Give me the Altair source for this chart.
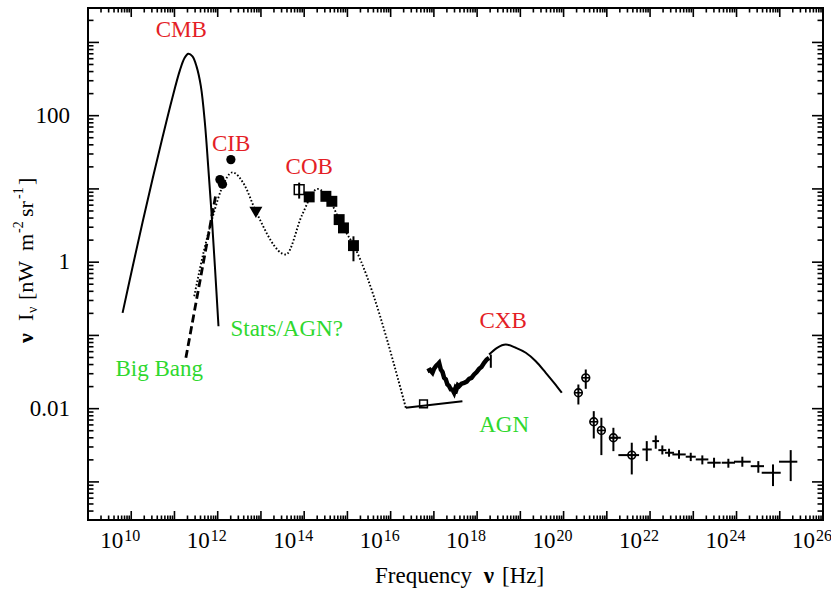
import altair as alt
import pandas as pd

FONT = "Liberation Serif"
RED = "#e41e26"
GREEN = "#2ed82e"
W, H = 735, 512

# ---------------- data (log10 of frequency [Hz] and of nu*I_nu [nW m^-2 sr^-1]) -------------
cmb_lognu = [9.80, 10.031, 10.262, 10.493, 10.724, 10.940, 11.125, 11.233, 11.318, 11.417, 11.510, 11.611,
             11.704, 11.780, 11.857, 11.935, 12.018]
cmb_logI = [-0.692, -0.065, 0.545, 1.136, 1.704, 2.218, 2.618, 2.787, 2.846, 2.809, 2.673, 2.400,
            1.900, 1.308, 0.672, -0.056, -0.874]

bigbang_lognu = [11.264, 11.965]
bigbang_logI = [-1.306, 0.95]

ebl_lognu = [11.457, 11.688, 11.919, 12.081, 12.342, 12.613, 12.883, 13.577, 13.954, 14.308, 14.578, 14.886, 15.156, 16.351]
ebl_logI = [-0.465, 0.172, 0.690, 0.990, 1.226, 1.059, 0.694, 0.104, 0.649, 1.0, 0.854, 0.490, 0.217, -1.988]

agn_lognu = [16.351, 17.66]
agn_logI = [-1.988, -1.898]
agn_pt_lognu = [16.76]
agn_pt_logI = [-1.933]

cxbdat_lognu = [16.851, 16.91, 16.967, 17.00, 17.045, 17.08, 17.121, 17.16, 17.20, 17.237, 17.275, 17.313,
                17.35, 17.392, 17.43, 17.468, 17.50, 17.522, 17.555, 17.584, 17.64, 17.699, 17.76, 17.815,
                17.87, 17.931, 17.99, 18.046, 18.10, 18.162, 18.22, 18.277]
cxbdat_logI = [-1.488, -1.47, -1.510, -1.46, -1.420, -1.40, -1.374, -1.465, -1.50, -1.579, -1.60, -1.670,
               -1.69, -1.738, -1.74, -1.783, -1.72, -1.738, -1.68, -1.693, -1.66, -1.647, -1.63, -1.593,
               -1.58, -1.533, -1.50, -1.456, -1.43, -1.374, -1.33, -1.306]
cxbdat_err_lognu = [18.317]
cxbdat_err_lo = [-1.442]
cxbdat_err_hi = [-1.261]

cxb_lognu = [18.277, 18.462, 18.664, 18.895, 19.126, 19.357, 19.588, 19.780, 19.958]
cxb_logI = [-1.261, -1.169, -1.124, -1.169, -1.237, -1.352, -1.510, -1.647, -1.783]

cib_lognu = [12.051, 12.111, 12.305]
cib_logI = [1.127, 1.065, 1.400]
cib_lim_lognu = [12.883]
cib_lim_logI = [0.681]

cob_open_lognu = [13.884]
cob_open_logI = [0.990]
cob_open_lo = [0.868]
cob_open_hi = [1.086]
cob_lognu = [14.116, 14.502, 14.640, 14.809, 14.909, 15.140]
cob_logI = [0.891, 0.899, 0.831, 0.581, 0.468, 0.226]
cob_lo = [0.891, 0.899, 0.831, 0.581, 0.468, 0.012]
cob_hi = [0.891, 0.899, 0.831, 0.581, 0.468, 0.353]

gam_lognu = [20.342, 20.513, 20.698, 20.874, 21.152, 21.577]
gam_logI = [-1.783, -1.579, -2.179, -2.297, -2.397, -2.634]
gam_lo = [-1.943, -1.729, -2.407, -2.634, -2.580, -2.898]
gam_hi = [-1.670, -1.465, -2.034, -2.124, -2.261, -2.465]
gam_xlo = [20.342, 20.513, 20.698, 20.874, 21.052, 21.267]
gam_xhi = [20.342, 20.513, 20.698, 20.874, 21.323, 21.746]

egb_lognu = [21.924, 22.132, 22.284, 22.439, 22.670, 22.941, 23.209, 23.480, 23.811, 24.134, 24.504, 24.844, 25.253]
egb_logI = [-2.557, -2.443, -2.566, -2.602, -2.625, -2.656, -2.693, -2.738, -2.738, -2.724, -2.785, -2.875, -2.724]
egb_lo = [-2.716, -2.547, -2.625, -2.656, -2.684, -2.716, -2.761, -2.806, -2.806, -2.793, -2.875, -3.057, -2.989]
egb_hi = [-2.443, -2.366, -2.502, -2.547, -2.566, -2.602, -2.638, -2.670, -2.684, -2.656, -2.716, -2.761, -2.566]
egb_xlo = [21.822, 22.053, 22.192, 22.347, 22.516, 22.825, 23.057, 23.325, 23.658, 23.942, 24.328, 24.582, 24.983]
egb_xhi = [22.039, 22.208, 22.377, 22.555, 22.825, 23.057, 23.348, 23.634, 23.965, 24.328, 24.636, 25.022, 25.406]

ann_text = ["CMB", "CIB", "COB", "CXB", "Big Bang", "Stars/AGN?", "AGN"]
ann_lognu = [11.156, 12.312, 14.116, 18.601, 10.647, 13.595, 18.624]
ann_logI = [3.173, 1.611, 1.304, -0.810, -1.465, -0.919, -2.229]
ann_color = [RED, RED, RED, RED, GREEN, GREEN, GREEN]

x_label_exp = [10, 12, 14, 16, 18, 20, 22, 24, 26]
y_label_vals = [0.01, 1, 100]
y_label_text = ["0.01", "1", "100"]

XMIN, XMAX = 1e9, 1e26
YMIN, YMAX = 10 ** -3.52, 10 ** 3.47

# ---------------- helpers ----------------
xs = alt.Scale(type="log", domain=[XMIN, XMAX], nice=False)
ys = alt.Scale(type="log", domain=[YMIN, YMAX], nice=False)


def P(v):
    return [10 ** a for a in v]


def df(**cols):
    return pd.DataFrame(cols)


def X(f="nu"):
    return alt.X(f + ":Q", scale=xs, axis=None)


def Y(f="I"):
    return alt.Y(f + ":Q", scale=ys, axis=None)


def line(lognu, logI, interp="monotone", **kw):
    return alt.Chart(df(nu=P(lognu), I=P(logI))).mark_line(color="black", interpolate=interp, **kw).encode(x=X(), y=Y())


def txt(s, x, y, size=23, weight="normal", align="left", angle=None, baseline="alphabetic"):
    kw = dict(text=s, font=FONT, fontSize=size, fontWeight=weight, color="black", align=align, baseline=baseline)
    if angle is not None:
        kw["angle"] = angle
    return alt.Chart(df(a=[0])).mark_text(**kw).encode(x=alt.value(x), y=alt.value(y))


layers = []

# curves
layers.append(line(cmb_lognu, cmb_logI, interp="catmull-rom", strokeWidth=2))
layers.append(line(bigbang_lognu, bigbang_logI, strokeWidth=2.8, strokeDash=[8, 4]))
layers.append(line(ebl_lognu, ebl_logI, strokeWidth=1.9, strokeDash=[1.6, 2.0]))
layers.append(line(agn_lognu, agn_logI, strokeWidth=2))
layers.append(alt.Chart(df(nu=P(cxbdat_lognu), I=P(cxbdat_logI))).mark_line(color="black", strokeWidth=4.5).encode(x=X(), y=Y()))
layers.append(alt.Chart(df(nu=P(cxbdat_err_lognu), I=P(cxbdat_err_lo), I2=P(cxbdat_err_hi))).mark_rule(color="black", strokeWidth=2).encode(x=X(), y=Y(), y2="I2:Q"))
layers.append(line(cxb_lognu, cxb_logI, strokeWidth=2))

# CIB / COB markers
layers.append(alt.Chart(df(nu=P(cib_lognu), I=P(cib_logI))).mark_point(shape="circle", filled=True, color="black", size=85, opacity=1).encode(x=X(), y=Y()))
layers.append(alt.Chart(df(nu=P(cib_lim_lognu), I=P(cib_lim_logI))).mark_point(shape="triangle-down", filled=True, color="black", size=170, opacity=1).encode(x=X(), y=Y()))
layers.append(alt.Chart(df(nu=P(cob_open_lognu), I=P(cob_open_lo), I2=P(cob_open_hi))).mark_rule(color="black", strokeWidth=2).encode(x=X(), y=Y(), y2="I2:Q"))
layers.append(alt.Chart(df(nu=P(cob_open_lognu), I=P(cob_open_logI))).mark_point(shape="square", filled=False, color="black", size=95, strokeWidth=1.5, opacity=1).encode(x=X(), y=Y()))
layers.append(alt.Chart(df(nu=P(cob_lognu), I=P(cob_lo), I2=P(cob_hi))).mark_rule(color="black", strokeWidth=2).encode(x=X(), y=Y(), y2="I2:Q"))
layers.append(alt.Chart(df(nu=P(cob_lognu), I=P(cob_logI))).mark_point(shape="square", filled=True, color="black", size=120, opacity=1).encode(x=X(), y=Y()))
layers.append(alt.Chart(df(nu=P(agn_pt_lognu), I=P(agn_pt_logI))).mark_point(shape="square", filled=False, color="black", size=60, strokeWidth=1.5, opacity=1).encode(x=X(), y=Y()))

# gamma-ray points
layers.append(alt.Chart(df(nu=P(gam_lognu), I=P(gam_lo), I2=P(gam_hi))).mark_rule(color="black", strokeWidth=2).encode(x=X(), y=Y(), y2="I2:Q"))
layers.append(alt.Chart(df(nu=P(gam_xlo), nu2=P(gam_xhi), I=P(gam_logI))).mark_rule(color="black", strokeWidth=2).encode(x=X(), x2="nu2:Q", y=Y()))
layers.append(alt.Chart(df(nu=P(gam_lognu), I=P(gam_logI))).mark_point(shape="circle", filled=False, color="black", size=60, strokeWidth=1.6, opacity=1).encode(x=X(), y=Y()))
layers.append(alt.Chart(df(nu=P(gam_lognu), I=P(gam_logI))).mark_point(shape="M-1,0L1,0", filled=False, color="black", size=60, strokeWidth=1.6, opacity=1).encode(x=X(), y=Y()))
layers.append(alt.Chart(df(nu=P(egb_lognu), I=P(egb_lo), I2=P(egb_hi))).mark_rule(color="black", strokeWidth=2).encode(x=X(), y=Y(), y2="I2:Q"))
layers.append(alt.Chart(df(nu=P(egb_xlo), nu2=P(egb_xhi), I=P(egb_logI))).mark_rule(color="black", strokeWidth=2).encode(x=X(), x2="nu2:Q", y=Y()))

# annotations
layers.append(alt.Chart(df(nu=P(ann_lognu), I=P(ann_logI), t=ann_text, c=ann_color)).mark_text(font=FONT, fontSize=23, align="center", baseline="middle").encode(x=X(), y=Y(), text="t:N", color=alt.Color("c:N", scale=None)))

# ---------------- inward ticks on all four sides ----------------
x_major = [10.0 ** d for d in range(9, 27)]
x_minor = [k * 10.0 ** d for d in range(9, 26) for k in range(2, 10)]
y_major = [10.0 ** d for d in range(-3, 4)]
y_minor = [k * 10.0 ** d for d in range(-4, 4) for k in range(2, 10) if YMIN <= k * 10.0 ** d <= YMAX]

for vals, ln in ((x_major, 9), (x_minor, 4.5)):
    d = df(nu=vals)
    layers.append(alt.Chart(d).mark_rule(color="black", strokeWidth=1.6).encode(x=X(), y=alt.value(H), y2=alt.value(H - ln)))
    layers.append(alt.Chart(d).mark_rule(color="black", strokeWidth=1.6).encode(x=X(), y=alt.value(0), y2=alt.value(ln)))
for vals, ln in ((y_major, 11), (y_minor, 5.5)):
    d = df(I=vals)
    layers.append(alt.Chart(d).mark_rule(color="black", strokeWidth=1.6).encode(y=Y(), x=alt.value(0), x2=alt.value(ln)))
    layers.append(alt.Chart(d).mark_rule(color="black", strokeWidth=1.6).encode(y=Y(), x=alt.value(W), x2=alt.value(W - ln)))

# ---------------- tick labels ----------------
xl = df(nu=[10.0 ** e for e in x_label_exp], e=[str(e) for e in x_label_exp])
layers.append(alt.Chart(xl).mark_text(text="10", font=FONT, fontSize=23, align="right", baseline="alphabetic", dx=-8).encode(x=X(), y=alt.value(540)))
layers.append(alt.Chart(xl).mark_text(font=FONT, fontSize=16, align="left", baseline="alphabetic", dx=-7).encode(x=X(), y=alt.value(533), text="e:N"))
yl = df(I=y_label_vals, t=y_label_text)
layers.append(alt.Chart(yl).mark_text(font=FONT, fontSize=23, align="right", baseline="middle", dx=0).encode(y=Y(), x=alt.value(-18), text="t:N"))

# ---------------- axis titles ----------------
layers.append(txt("Frequency", 287, 575))
layers.append(txt("ν", 401, 575, weight="bold", align="center"))
layers.append(txt("[Hz]", 414, 575))

YT = -55
layers.append(txt("ν", YT, 335, size=22, weight="bold", angle=270))
layers.append(txt("I", YT, 313, size=22, angle=270))
layers.append(txt("ν", YT + 4, 305, size=14, angle=270))
layers.append(txt("[nW", YT, 292, size=22, angle=270))
layers.append(txt("m", YT, 243, size=22, angle=270))
layers.append(txt("-2", YT - 10, 225, size=14, angle=270))
layers.append(txt("sr", YT, 209, size=22, angle=270))
layers.append(txt("-1", YT - 10, 191, size=14, angle=270))
layers.append(txt("]", YT, 177, size=22, angle=270))

chart = alt.layer(*layers).properties(
    width=W, height=H,
    autosize=alt.AutoSizeParams(type="none"),
    padding={"left": 88, "top": 8, "right": 8, "bottom": 75},
    background="white",
).configure_view(stroke="black", strokeWidth=2)

chart.save("out.html", embed_options={"renderer": "svg", "actions": False})
